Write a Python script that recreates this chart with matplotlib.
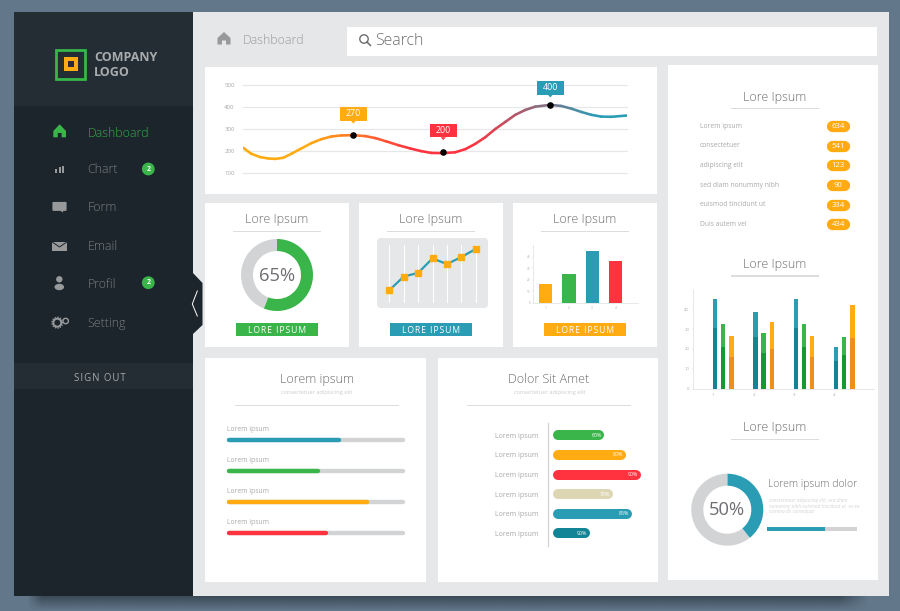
#!/usr/bin/env python
"""Dashboard mock-up: sidebar, panels and the small charts."""
import numpy as np
import matplotlib
matplotlib.use("Agg")
import matplotlib.pyplot as plt
from matplotlib.collections import LineCollection
from matplotlib.colors import LinearSegmentedColormap
from matplotlib.patches import Circle, Ellipse, FancyBboxPatch, Polygon, Rectangle
from matplotlib.transforms import IdentityTransform

GREEN = "#39B54A"
ORANGE = "#FFAB11"
BLUE = "#2A9DB5"
RED = "#FF3340"
TEAL = "#138496"
BEIGE = "#DDD6B3"
TRACK = "#D1D3D4"
PANEL = "#E6E7E9"
TEXT = "#6D6E71"
SOFT = "#A7A9AC"
NAV = "#7A7F83"
ICON = "#97999B"
HAIR = "\u200a"

W, H = 900, 611
plt.rcParams["font.family"] = ["Open Sans", "DejaVu Sans"]

# ── Data ────────────────────────────────────────────────────────────────────
curve_x = [0, 8, 17, 25, 32, 40, 48, 58, 68, 78, 88, 98, 110, 122, 132, 143, 155,
           167, 178, 188, 200, 212, 222, 232, 242, 252, 262, 272, 282, 292, 307,
           318, 328, 338, 348, 358, 368, 384]
curve_y = [215, 188, 173, 167, 165, 170, 188, 212, 236, 254, 266, 271, 272, 268,
           259, 244, 227, 212, 200, 192, 191, 195, 209, 233, 263, 300, 332, 364,
           386, 401, 409, 404, 392, 377, 364, 356, 355, 361]
curve_ticks = [100, 200, 300, 400, 500]
peak_x = [110, 200, 307]
peak_y = [272, 197, 409]
peak_labels = ["270", "200", "400"]
peak_colors = [ORANGE, RED, BLUE]
peak_lift = [21.3, 21.3, 17]

donut_a = [56, 44]
donut_a_label = "65%"

spark_y = [20.6, 44.7, 51, 76.5, 66.5, 78.8, 93]

mini_bars = [16.7, 25, 45, 36]
mini_colors = [ORANGE, GREEN, BLUE, RED]

progress_labels = ["Lorem ipsum"] * 4
progress_values = [63.5, 51, 79.4, 56]
progress_colors = [BLUE, GREEN, ORANGE, RED]

pill_labels = ["Lorem ipsum"] * 6
pill_values = [41.7, 63.3, 78, 50.3, 69, 27]
pill_text = ["60%", "80%", "90%", "70%", "85%", "90%"]
pill_colors = [GREEN, ORANGE, RED, BEIGE, BLUE, TEAL]

list_labels = ["Lorem ipsum", "consectetuer", "adipiscing elit",
               "sed diam nonummy nibh", "euismod tincidunt ut", "Duis autem vel"]
list_values = [634, 541, 123, 90, 334, 434]

group_x = [1, 2, 3, 4]
blue_top = [44.9, 38.8, 44.9, 20.8]
blue_low = [30.3, 26.2, 30.3, 14.1]
green_top = [32.6, 28.2, 32.6, 26.2]
green_low = [21, 18, 21, 16.8]
orange_top = [26.4, 33.3, 26.4, 42]
orange_low = [16, 20, 16, 25.5]

donut_b = [39.3, 60.7]
donut_b_label = "50%"
donut_b_progress = 64

nav_labels = ["Dashboard", "Chart", "Form", "Email", "Profil", "Setting"]
nav_y = [132, 168.5, 206.5, 245, 283.5, 322.5]


def px_pt(px):
    """Line widths are given in pixels of the 100 dpi output."""
    return px * 72 / 100


def inset(x0, y0, x1, y1, **kw):
    """Axes placed by its pixel box, y measured from the top of the image."""
    ax = fig.add_axes([x0 / W, 1 - y1 / H, (x1 - x0) / W, (y1 - y0) / H], **kw)
    ax.patch.set_alpha(0)
    return ax


def rect(x0, y0, x1, y1, color, **kw):
    bg.add_patch(Rectangle((x0, y0), x1 - x0, y1 - y0, fc=color, ec="none", **kw))


def label(x, y, s, size, color=TEXT, ha="center", **kw):
    # va=center sits about a pixel high for this font
    bg.text(x, y + 1.2, s, fontsize=size, color=color, ha=ha, va="center", **kw)


def heading(cx, y, line_y, half, s, size=9):
    label(cx, y, s, size, fontweight="light")
    rect(cx - half, line_y - 0.8, cx + half, line_y + 0.8, "#DCDDDE")


def button(x0, x1, color):
    rect(x0, 322.5, x1, 336, color)
    label((x0 + x1) / 2, 329.3, HAIR.join("LORE IPSUM"), 6.2, color="white")


def donut(cx, cy, values, color, text):
    ax = inset(cx - 36, cy - 36, cx + 36, cy + 36)
    ax.pie(values, colors=[color, TRACK], startangle=90, counterclock=False,
           radius=1, wedgeprops={"width": 1 / 3, "linewidth": 0})
    ax.set_xlim(-1, 1)
    ax.set_ylim(-1, 1)
    ax.text(0, -0.02, text, ha="center", va="center", fontsize=13.2, color=TEXT)


fig = plt.figure(figsize=(W / 100, H / 100), dpi=100, facecolor="#62778A")
bg = fig.add_axes([0, 0, 1, 1])

# ── Frame ───────────────────────────────────────────────────────────────────
shadow = np.zeros((16, 120, 4))
shadow[..., :3] = matplotlib.colors.to_rgb("#27333D")
fade_y = np.linspace(0.7, 0.0, 16)[:, None]
fade_x = np.clip(np.minimum(np.arange(120) / 2.0, (119 - np.arange(120)) / 4.0), 0, 1)[None, :]
shadow[..., 3] = fade_y * fade_x
bg.imshow(shadow, extent=(24, 872, 611, 595.5), aspect="auto", interpolation="bilinear")
bg.set_xlim(0, W)
bg.set_ylim(H, 0)
bg.axis("off")

rect(14, 12, 888.7, 595.5, PANEL)
rect(14, 12, 193, 595.5, "#1C252B")
rect(14, 12, 193, 106, "#232D33")
rect(14, 363, 193, 389, "#232D33")
bg.add_patch(Polygon([(193, 273), (202.5, 283), (202.5, 325), (193, 334)], fc="#1C252B", ec="none"))
bg.plot([197.3, 192.3, 197.3], [291, 304, 316], color="white", lw=0.7)

# Logo
bg.add_patch(Rectangle((56.4, 49.7), 28.9, 28.9, fc="none", ec=GREEN, lw=px_pt(2.8)))
bg.add_patch(Rectangle((66.3, 59.3), 9.4, 9.4, fc="none", ec=ORANGE, lw=px_pt(4)))
label(94, 56.5, "COMPANY", 9, color="#A9ACAE", ha="left", fontweight="bold")
label(94, 71.8, "LOGO", 9, color="#A9ACAE", ha="left", fontweight="bold")

# Navigation
for name, y in zip(nav_labels, nav_y):
    label(87.5, y, name, 8.9, color="#35AB48" if name == "Dashboard" else NAV, ha="left", fontweight="light")
for y in (169, 282.7):
    bg.add_patch(Circle((148.3, y), 6.4, fc=GREEN, ec="none"))
    label(148.3, y - 1, "2", 5, color="white", fontweight="bold")
label(100, 377, HAIR.join("SIGN OUT"), 6.9, color="#A7A9AC")

# Icons
bg.add_patch(Polygon([(53.3, 131), (59.7, 124.3), (66, 131), (66, 137.3), (61.6, 137.3), (61.6, 133),
                      (57.8, 133), (57.8, 137.3), (53.3, 137.3)], fc=GREEN, ec="none"))
for x0, top in ((55, 169), (58.6, 167.3), (62, 165.7)):
    rect(x0, top, x0 + 2.4, 173, ICON)
bg.add_patch(FancyBboxPatch((53, 202.5), 13, 7.8, boxstyle="round,pad=0.6,rounding_size=1", fc=ICON, ec="none"))
bg.add_patch(Polygon([(60, 210), (64, 210), (62.5, 212.5)], fc=ICON, ec="none"))
rect(52.3, 241.7, 66.7, 250.7, ICON)
bg.plot([52.3, 59.5, 66.7], [242, 247, 242], color="#1C252B", lw=0.7)
bg.add_patch(Circle((59.3, 279.3), 3.2, fc=ICON, ec="none"))
bg.add_patch(Ellipse((59.3, 287), 9.6, 6.4, fc=ICON, ec="none"))
bg.add_patch(Circle((57.3, 322.7), 4, fc="none", ec=ICON, lw=px_pt(2)))
bg.add_patch(Circle((57.3, 322.7), 5.4, fc="none", ec=ICON, lw=px_pt(1.3), ls=(0, (1, 1))))
bg.add_patch(Circle((65.7, 321), 2.7, fc="none", ec=ICON, lw=px_pt(1.4)))

# ── Top bar ─────────────────────────────────────────────────────────────────
bg.add_patch(Polygon([(217.5, 38), (224, 32), (230.5, 38), (230.5, 44.5), (226, 44.5), (226, 40.5),
                      (222, 40.5), (222, 44.5), (217.5, 44.5)], fc=ICON, ec="none"))
label(243, 39.7, "Dashboard", 8.9, color="#979A9C", ha="left", fontweight="light")
rect(347, 27, 877, 56, "white")
bg.add_patch(Circle((364, 39), 4.2, fc="none", ec=TEXT, lw=px_pt(1.4)))
bg.plot([367, 370.4], [42, 45.4], color=TEXT, lw=px_pt(1.6))
label(375.3, 39.5, "Search", 11.4, ha="left", fontweight="light")

# ── Panels ──────────────────────────────────────────────────────────────────
for box in ((205, 67, 657, 194), (205, 203, 349, 347), (359, 203, 503, 347), (513, 203, 657, 347),
            (205, 358, 426, 582), (438, 358, 658, 582), (668, 65, 878, 580)):
    rect(*box, "white")
for cx in (277, 431, 585):
    heading(cx, 218.5, 231.5, 44, "Lore Ipsum")
heading(317, 378, 405.5, 82, "Lorem ipsum")
heading(548.5, 378, 405.5, 82, "Dolor Sit Amet")
label(317, 391.7, "consectetuer adipiscing elit", 4.1, color="#C9CBCC")
label(549.7, 391.7, "consectetuer adipiscing elit", 4.1, color="#C9CBCC")
heading(774.7, 96, 108.7, 44, "Lore Ipsum")
heading(774.7, 263, 275.7, 44, "Lore Ipsum")
heading(774.7, 426.5, 439.3, 44, "Lore Ipsum")
button(236, 318, GREEN)
button(390, 472, BLUE)
button(544, 626, ORANGE)

# ── Top curve ───────────────────────────────────────────────────────────────
ax = inset(243.3, 84.7, 627.3, 173.3)
ax.set_xlim(0, 384)
ax.set_ylim(100, 500)
cmap = LinearSegmentedColormap.from_list(
    "curve", [(0, ORANGE), (0.17, ORANGE), (0.44, RED), (0.6, RED), (0.92, BLUE), (1, BLUE)])
pts = np.column_stack([curve_x, curve_y])
segs = np.stack([pts[:-1], pts[1:]], axis=1)
mids = (pts[:-1, 0] + pts[1:, 0]) / 2 / curve_x[-1]
ax.add_collection(LineCollection(segs, colors=cmap(mids), linewidths=px_pt(2.6), capstyle="round",
                                 joinstyle="round", zorder=3))
ax.scatter(peak_x, peak_y, s=px_pt(6.6) ** 2, color="black", zorder=4, clip_on=False, linewidths=0)
for x, y, s, c, lift in zip(peak_x, peak_y, peak_labels, peak_colors, peak_lift):
    # callout box is sized in pixels above the data point
    dx, dy = ax.transData.transform((x, y))
    cy = dy + lift
    ax.add_patch(Rectangle((dx - 13.6, cy - 6.7), 27.2, 13.4, fc=c, ec="none", clip_on=False,
                           transform=IdentityTransform(), zorder=5))
    ax.add_patch(Polygon([(dx - 2.6, cy - 6.7), (dx + 2.6, cy - 6.7), (dx, cy - 9.6)], fc=c, ec="none",
                         clip_on=False, transform=IdentityTransform(), zorder=5))
    ax.annotate(s, (x, y), xytext=(0, px_pt(lift + 0.4)), textcoords="offset points", ha="center", va="center",
                fontsize=6.4, color="white", zorder=6)
ax.set_yticks(curve_ticks)
ax.set_xticks([])
ax.grid(axis="y", color="#E6E7E8", lw=px_pt(1.2))
ax.set_axisbelow(True)
ax.tick_params(axis="y", length=0, labelsize=4.4, labelcolor=SOFT, pad=px_pt(8.5))
for s in ax.spines.values():
    s.set_visible(False)
for gl in ax.get_ygridlines():
    gl.set_clip_on(False)

# ── Small panels ────────────────────────────────────────────────────────────
donut(277, 275, donut_a, GREEN, donut_a_label)

bg.add_patch(FancyBboxPatch((380, 241), 105, 64, boxstyle="round,pad=3,rounding_size=4", fc=PANEL, ec="none"))
ax = inset(389.3, 245, 475.7, 302)
spark_x = np.arange(len(spark_y))
ax.plot(spark_x, spark_y, color=BLUE, lw=px_pt(2.2), marker="s", ms=px_pt(6), mfc=ORANGE, mec=ORANGE,
        clip_on=False, zorder=3)
ax.set_xlim(0, 6)
ax.set_ylim(0, 100)
ax.set_xticks(spark_x)
ax.set_yticks([])
ax.set_xticklabels([])
ax.tick_params(length=0)
ax.grid(axis="x", color="white", lw=px_pt(1))
ax.set_axisbelow(True)
for s in ax.spines.values():
    s.set_visible(False)
for gl in ax.get_xgridlines():
    gl.set_clip_on(False)

ax = inset(533.3, 245, 637.7, 303)
ax.bar(range(1, 5), mini_bars, width=0.57, color=mini_colors)
ax.set_xlim(0.47, 4.96)
ax.set_ylim(0, 50)
ax.set_xticks(range(1, 5))
ax.set_yticks(range(0, 50, 10))
ax.tick_params(length=1, width=0.3, color="#D0D0D0", labelsize=2.2, labelcolor=SOFT, pad=1)
for s in ("top", "right"):
    ax.spines[s].set_visible(False)
for s in ("left", "bottom"):
    ax.spines[s].set_color("#E6E7E8")
    ax.spines[s].set_linewidth(px_pt(0.9))

# ── Progress bars ───────────────────────────────────────────────────────────
ax = inset(229, 424.5, 402.7, 548.5)
rows = np.arange(len(progress_values))
ax.hlines(rows, 0, 100, color=TRACK, lw=px_pt(4.4), capstyle="round", zorder=2, clip_on=False)
ax.hlines(rows, 0, progress_values, color=progress_colors, lw=px_pt(4.4), capstyle="round", zorder=3, clip_on=False)
for r, s in zip(rows, progress_labels):
    ax.annotate(s, (0, r), xytext=(-px_pt(2), px_pt(10.8)), textcoords="offset points", va="center",
                fontsize=4.9, color=SOFT)
ax.set_xlim(0, 100)
ax.set_ylim(3.5, -0.5)
ax.axis("off")

# ── Pills ───────────────────────────────────────────────────────────────────
ax = inset(548.3, 423, 660, 546)
rows = np.arange(len(pill_values))
ax.hlines(rows, 0, pill_values, color=pill_colors, lw=px_pt(10), capstyle="round", clip_on=False)
for r, v, s in zip(rows, pill_values, pill_text):
    ax.annotate(s, (v, r), xytext=(px_pt(2.6), 0), textcoords="offset points", ha="right", va="center",
                fontsize=3.8, color="white")
ax.set_xlim(-9.4, 102.3)
ax.set_ylim(5.65, -0.63)
ax.set_xticks([])
ax.set_yticks(rows)
ax.set_yticklabels(pill_labels, fontsize=5, color=SOFT)
ax.tick_params(length=0, pad=px_pt(10))
for s in ("top", "right", "bottom"):
    ax.spines[s].set_visible(False)
ax.spines["left"].set_color(TRACK)
ax.spines["left"].set_linewidth(px_pt(1.3))

# ── Right column ────────────────────────────────────────────────────────────
for i, (name, v) in enumerate(zip(list_labels, list_values)):
    y = 125 + i * 19.66
    label(700, y, name, 4.9, color=SOFT, ha="left")
    bg.plot([831.5, 844.2], [y + 1, y + 1], color=ORANGE, lw=px_pt(11.3), solid_capstyle="round")
    label(838, y + 0.4, str(v), 5.6, color="white")

ax = inset(693.3, 289.3, 874, 388.7)
gx = np.array(group_x)
for off, top, low, light, dark in ((0.05, blue_top, blue_low, BLUE, TEAL),
                                   (0.248, green_top, green_low, GREEN, "#149A2E"),
                                   (0.455, orange_top, orange_low, ORANGE, "#EE8F1C")):
    ax.bar(gx + off, top, width=0.107, color=light, zorder=2)
    ax.bar(gx + off, low, width=0.107, color=dark, zorder=3)
ax.set_xlim(0.504, 4.99)
ax.set_ylim(0, 50)
ax.set_xticks(group_x)
ax.set_yticks(range(0, 50, 10))
ax.tick_params(length=1, width=0.3, color="#D0D0D0", labelsize=3, labelcolor=SOFT, pad=2)
for s in ("top", "right"):
    ax.spines[s].set_visible(False)
for s in ("left", "bottom"):
    ax.spines[s].set_color("#E6E7E8")
    ax.spines[s].set_linewidth(px_pt(1))

donut(727.3, 509.7, donut_b, BLUE, donut_b_label)
label(768, 483, "Lorem ipsum dolor", 7.5, ha="left", fontweight="light")
for y, s in zip((500, 505.5, 511), ("consectetuer adipiscing elit, sed diam",
                                    "nonummy nibh euismod tincidunt ut  ex ea",
                                    "commo do consequat")):
    label(769, y - 0.6, s, 3.4, color="#D1D3D4", ha="left", style="italic")

ax = inset(767.3, 527, 856.7, 530.7)
ax.barh([0], [100], height=1, color=TRACK)
ax.barh([0], [donut_b_progress], height=1, color=BLUE)
ax.set_xlim(0, 100)
ax.set_ylim(-0.5, 0.5)
ax.axis("off")

fig.savefig("out.png", dpi=100, facecolor=fig.get_facecolor())
